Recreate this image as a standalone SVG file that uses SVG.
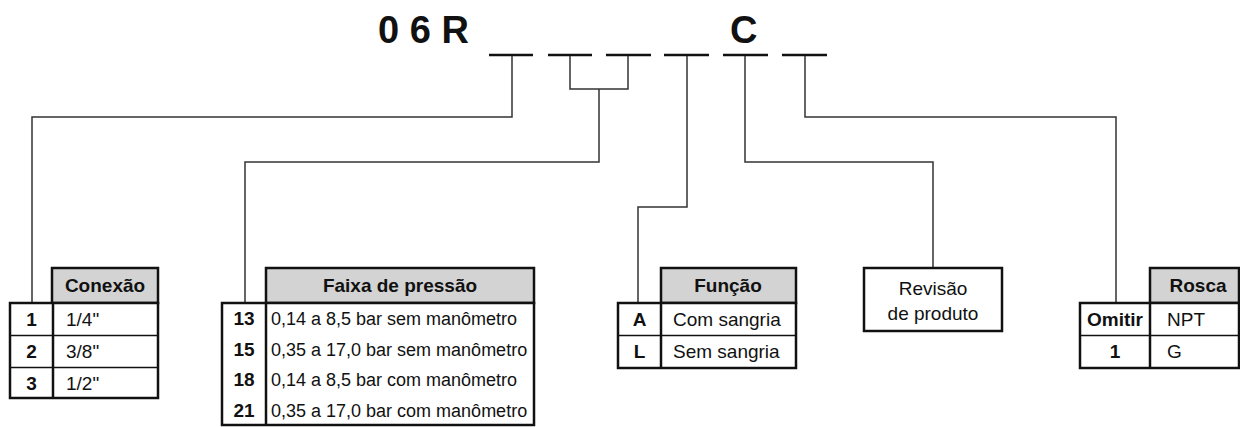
<svg xmlns="http://www.w3.org/2000/svg" width="1240" height="427" viewBox="0 0 1240 427">
<style>
text{font-family:"Liberation Sans",Arial,sans-serif;fill:#111}
.title{font-size:38px;font-weight:bold}
.h{font-size:19px;font-weight:bold;text-anchor:middle}
.k{font-size:19px;font-weight:bold;text-anchor:middle}
.v{font-size:19px}
.vs{font-size:18px}
.c{font-size:19px;text-anchor:middle}
.hd{fill:#d3d3d3;stroke:#111;stroke-width:2.5}
.bx{fill:#fff;stroke:#111;stroke-width:2.5}
.dv{stroke:#111;stroke-width:2.5}
.rl{stroke:#111;stroke-width:1.5}
.dash{stroke:#111;stroke-width:2.5}
.cn{fill:none;stroke:#333;stroke-width:1.5}
</style>
<rect width="1240" height="427" fill="#fff"/>
<g id="code">
<text class="title" x="378" y="43">0 6 R</text>
<text class="title" x="730" y="43">C</text>
<line class="dash" x1="489" y1="55" x2="533" y2="55"/>
<line class="dash" x1="548" y1="55" x2="592" y2="55"/>
<line class="dash" x1="606" y1="55" x2="651" y2="55"/>
<line class="dash" x1="664" y1="55" x2="709" y2="55"/>
<line class="dash" x1="723" y1="55" x2="768" y2="55"/>
<line class="dash" x1="782" y1="55" x2="827" y2="55"/>
</g>
<g id="connectors">
<polyline class="cn" points="512,56 512,117 32,117 32,303"/>
<polyline class="cn" points="570,56 570,89 628,89 628,56"/>
<polyline class="cn" points="599,89 599,162 245,162 245,303"/>
<polyline class="cn" points="687,56 687,207 638,207 638,303"/>
<polyline class="cn" points="745,56 745,162 933,162 933,268"/>
<polyline class="cn" points="805,56 805,117 1116,117 1116,303"/>
</g>
<g id="conexao">
<rect class="hd" x="52" y="268" width="106" height="35"/>
<rect class="bx" x="10" y="303" width="148" height="95"/>
<line class="dv" x1="53" y1="303" x2="53" y2="398"/>
<line class="rl" x1="10" y1="335.5" x2="158" y2="335.5"/>
<line class="rl" x1="10" y1="367.5" x2="158" y2="367.5"/>
<text class="h" x="105" y="292">Conexão</text>
<text class="k" x="31.5" y="326">1</text>
<text class="k" x="31.5" y="358">2</text>
<text class="k" x="31.5" y="390">3</text>
<text class="v" x="66" y="326">1/4"</text>
<text class="v" x="66" y="358">3/8"</text>
<text class="v" x="66" y="390">1/2"</text>
</g>
<g id="faixa">
<rect class="hd" x="266" y="268" width="268" height="35"/>
<rect class="bx" x="222" y="303" width="312" height="122"/>
<line class="dv" x1="266" y1="303" x2="266" y2="425"/>
<text class="h" x="400" y="292">Faixa de pressão</text>
<text class="k" x="244" y="325">13</text>
<text class="k" x="244" y="355.5">15</text>
<text class="k" x="244" y="386">18</text>
<text class="k" x="244" y="416.5">21</text>
<text class="vs" x="271" y="325">0,14 a 8,5 bar sem manômetro</text>
<text class="vs" x="271" y="355.5">0,35 a 17,0 bar sem manômetro</text>
<text class="vs" x="271" y="386">0,14 a 8,5 bar com manômetro</text>
<text class="vs" x="271" y="416.5">0,35 a 17,0 bar com manômetro</text>
</g>
<g id="funcao">
<rect class="hd" x="661" y="268" width="135" height="35"/>
<rect class="bx" x="618" y="303" width="178" height="65"/>
<line class="dv" x1="661" y1="303" x2="661" y2="368"/>
<line class="rl" x1="618" y1="335.5" x2="796" y2="335.5"/>
<text class="h" x="728" y="292">Função</text>
<text class="k" x="639.5" y="326">A</text>
<text class="k" x="639.5" y="358">L</text>
<text class="v" x="673" y="326">Com sangria</text>
<text class="v" x="673" y="358">Sem sangria</text>
</g>
<g id="revisao">
<rect class="bx" x="864" y="268" width="138" height="63"/>
<text class="c" x="933" y="295">Revisão</text>
<text class="c" x="933" y="320">de produto</text>
</g>
<g id="rosca">
<rect class="hd" x="1150" y="268" width="89" height="35"/>
<rect class="bx" x="1080" y="303" width="159" height="65"/>
<line class="dv" x1="1150" y1="303" x2="1150" y2="368"/>
<line class="rl" x1="1080" y1="335.5" x2="1239" y2="335.5"/>
<text class="h" x="1198" y="292">Rosca</text>
<text class="k" x="1115" y="326">Omitir</text>
<text class="k" x="1115" y="358">1</text>
<text class="v" x="1167" y="326">NPT</text>
<text class="v" x="1167" y="358">G</text>
</g>
</svg>
